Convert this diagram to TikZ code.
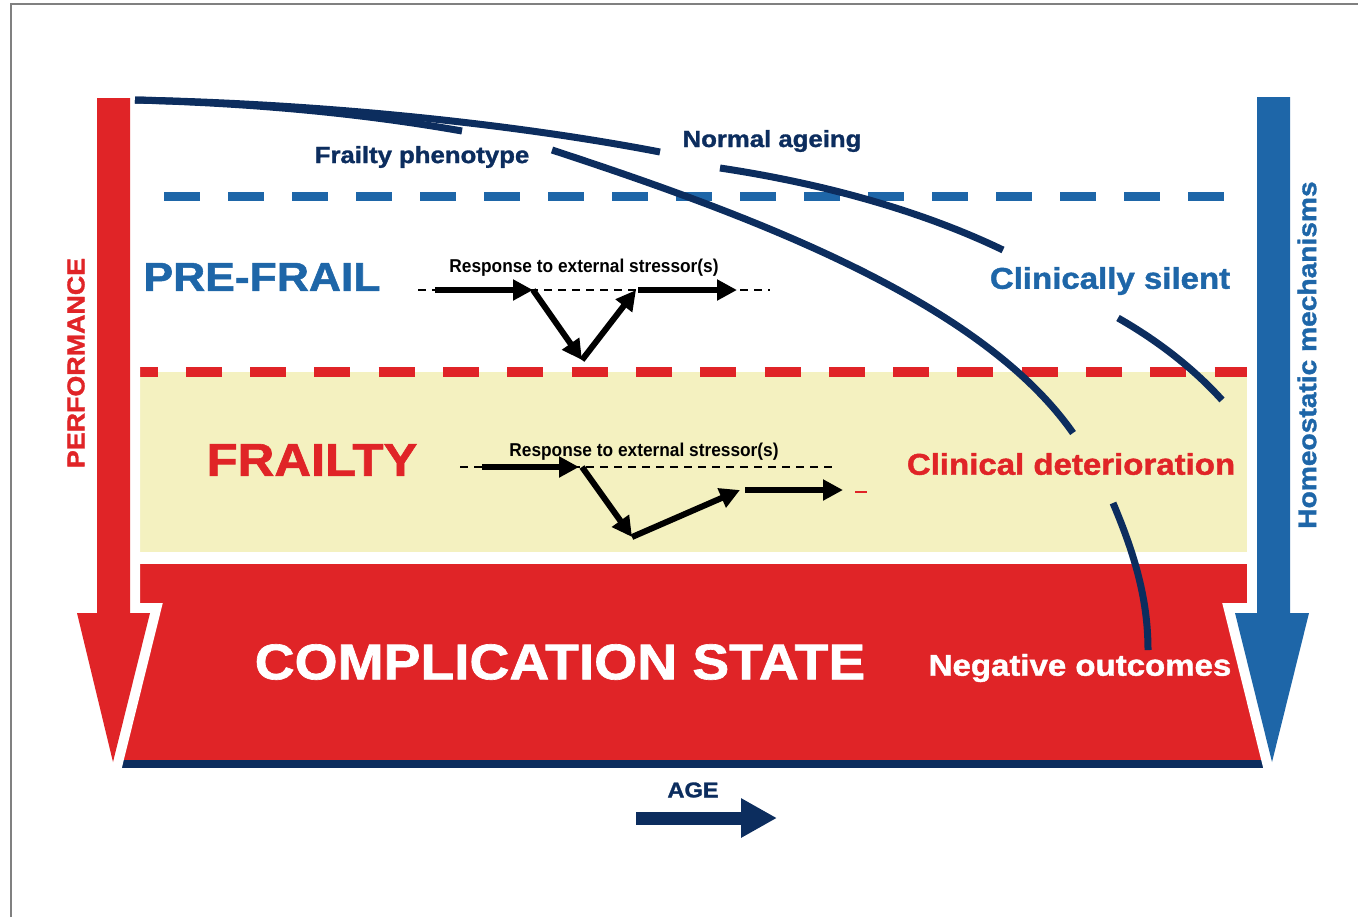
\documentclass[tikz,border=0pt]{standalone}
\usepackage{fontspec}
\setmainfont{Liberation Sans}
\newfontfamily\heavyfont{Liberation Sans}[FakeBold=1.3]
\usepackage{graphicx}
\usetikzlibrary{positioning,calc,arrows.meta}
\definecolor{navy}{HTML}{0C2D5E}
\definecolor{homeoblue}{HTML}{1E66A8}
\definecolor{perfred}{HTML}{E02427}
\definecolor{frailyellow}{HTML}{F4F1C0}
% heavy label text: size, then text
\newcommand*{\hv}[2]{\fontsize{#1}{#1}\heavyfont\bfseries\scalebox{1.1}[1]{#2}}
% narrow label text for the stressor curves
\newcommand*{\nw}[1]{\fontsize{9.3}{9.3}\selectfont\bfseries\scalebox{0.93}[1]{#1}}

\begin{document}
\begin{tikzpicture}[x=0.5pt,y=-0.5pt,
  lbl/.style={inner sep=0pt},
  curve/.style={navy,line width=3.5pt},
  stress/.style={line width=3pt,-{Triangle[length=10pt,width=10pt]}},
  baseline/.style={line width=0.8pt,dash pattern=on 4pt off 3pt}]
\useasboundingbox (0,0) rectangle (1358,917);
% Frame round the figure, cut at right and bottom
\draw[gray,line width=1pt] (11,917) -- (11,4) -- (1358,4);
% Complication state block with its dark base line
\fill[perfred] (115,564) rectangle (1265,762);
\draw[navy,line width=4pt] (113,764) -- (1272,764);
% Frailty band
\fill[frailyellow] (115,372) rectangle (1265,552);
% Thresholds
\draw[perfred,line width=5pt,dash pattern=on 18pt off 14.15pt] (121.5,372) -- (1250,372);
\draw[homeoblue,line width=4.5pt,dash pattern=on 18pt off 14pt] (164,196) -- (1225,196);
% Performance arrow (left) and homeostatic arrow (right), white rim
\fill[perfred,preaction={draw=white,line width=10pt,line join=miter}]
  (97,98) -- (130,98) -- (130,613) -- (150,613) -- (113,762) -- (77,613) -- (97,613) -- cycle;
\fill[homeoblue,preaction={draw=white,line width=10pt,line join=miter}]
  (1257,97) -- (1290,97) -- (1290,613) -- (1309,613) -- (1272,762) -- (1235,613) -- (1257,613) -- cycle;
% Normal ageing curve, broken at its labels
\draw[curve] (135,100) .. controls (330,104) and (520,125) .. (660,152);
\draw[curve] (720,168) .. controls (820,183) and (920,210) .. (1003,250);
\draw[curve] (1118,318) .. controls (1160,342) and (1195,370) .. (1222,400);
% Frailty phenotype curve
\draw[curve] (135,100) .. controls (250,103) and (360,113) .. (462,131);
\draw[curve] (552,150) .. controls (750,215) and (980,300) .. (1073,433);
\draw[curve] (1113,503) .. controls (1135,555) and (1148,600) .. (1148,650);
% Curve labels
\node[lbl,text=navy] (normal) at (772,141) {\hv{11.7}{Normal ageing}};
\node[lbl,text=navy] (phenotype) at (422,157) {\hv{11.7}{Frailty phenotype}};
\node[lbl,text=homeoblue] (silent) at (1110,281) {\hv{15}{Clinically silent}};
\node[lbl,text=perfred] (deterioration) at (1071,464) {\hv{15}{Clinical deterioration}};
\node[lbl,text=white] (negative) at (1080,668) {\hv{15}{Negative outcomes}};
% State labels
\node[lbl,text=homeoblue] (prefrail) at (262,277) {\hv{20.2}{PRE-FRAIL}};
\node[lbl,text=perfred] (frailty) at (312,460) {\hv{23.1}{FRAILTY}};
\node[lbl,text=white] (complication) at (560,662) {\hv{25.1}{COMPLICATION STATE}};
% Axis labels
\node[lbl,text=perfred,rotate=90] (perf) at (76,363) {\hv{12.2}{PERFORMANCE}};
\node[lbl,text=homeoblue,rotate=90] (homeo) at (1307,355) {\hv{12.8}{Homeostatic mechanisms}};
\node[lbl,text=navy] (age) at (693,790) {\hv{10.7}{AGE}};
\coordinate (agestart) at (636,818);
\coordinate (ageend) at (777,818);
\draw[navy,line width=6.5pt,-{Triangle[length=18pt,width=18.5pt]}] (agestart) -- (ageend);
% Pre-frail response: drops and comes back to the line
\coordinate (p0) at (418,290);
\coordinate (p1) at (435,290);
\coordinate (p2) at (533,290);
\coordinate (p3) at (582,360);
\coordinate (p4) at (636,290);
\coordinate (p5) at (737,290);
\coordinate (p6) at (770,290);
\draw[baseline] (p0) -- (p6);
\draw[stress] (p1) -- (p2);
\draw[stress] (p2) -- (p3);
\draw[stress] (p3) -- (p4);
\draw[stress] ($(p4)+(2,0)$) -- (p5);
\node[lbl] (resp1) at (584,268) {\nw{Response to external stressor(s)}};
% Frailty response: drops and stays below the line
\coordinate (f0) at (460,467);
\coordinate (f1) at (482,467);
\coordinate (f2) at (579,467);
\coordinate (f3) at (632,537);
\coordinate (f4) at (740,490);
\coordinate (f5) at (745,490);
\coordinate (f6) at (843,490);
\coordinate (f7) at (833,467);
\draw[baseline] (f0) -- (f7);
\draw[stress] (f1) -- (f2);
\draw[stress] ($(f2)+(3,0)$) -- (f3);
\draw[stress] (f3) -- (f4);
\draw[stress] (f5) -- (f6);
\draw[perfred,line width=0.8pt] ($(f6)+(12,2)$) -- +(12,0);
\node[lbl] (resp2) at (644,452) {\nw{Response to external stressor(s)}};
\end{tikzpicture}
\end{document}
